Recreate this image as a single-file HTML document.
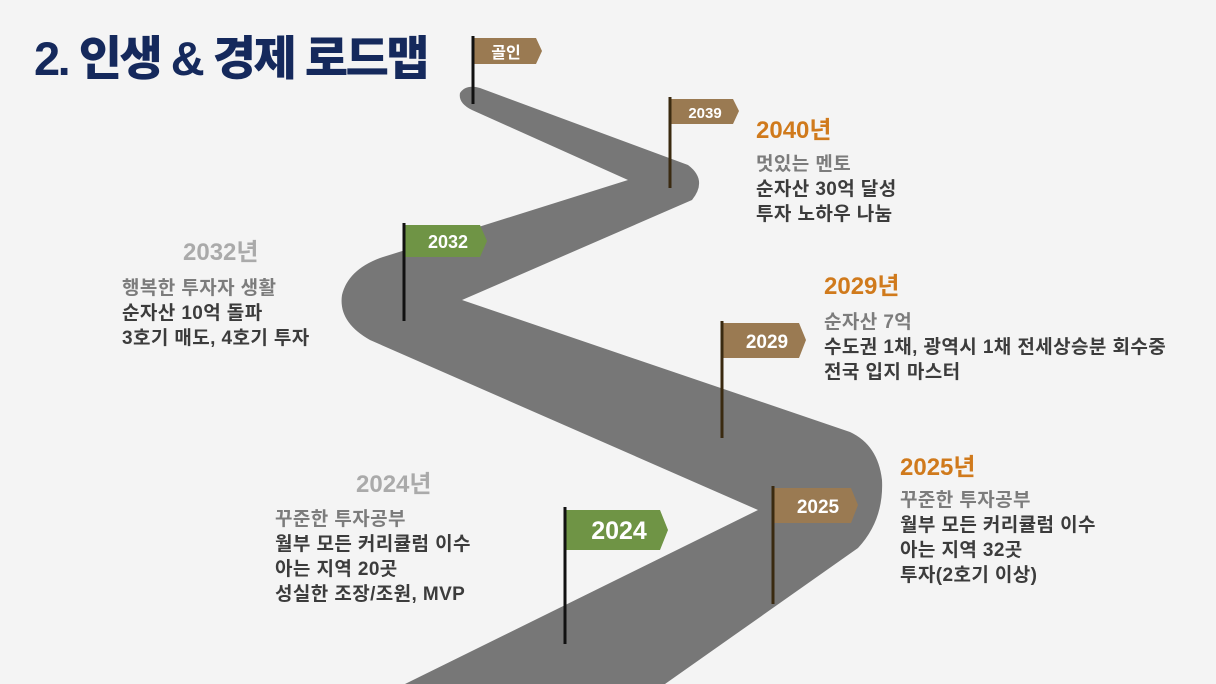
<!DOCTYPE html>
<html><head><meta charset="utf-8"><style>
html,body{margin:0;padding:0;background:#f4f4f4;}
body{width:1216px;height:684px;position:relative;overflow:hidden;font-family:"Liberation Sans","Noto Sans CJK KR",sans-serif;}
.t{position:absolute;white-space:nowrap;}
.title{left:34px;top:20px;font-size:47px;font-weight:900;color:#15295c;letter-spacing:-2.5px;}
.yr{font-size:24px;font-weight:700;}
.o{color:#d07a1c;}
.g{color:#aaaaaa;}
.l{font-size:19px;font-weight:700;color:#3c3c3c;line-height:25px;letter-spacing:0.4px;}
.l .f{color:#7c7c7c;}
</style></head><body>
<svg width="1216" height="684" style="position:absolute;left:0;top:0">
<path d="M 405 684 L 758 510 L 370 340 Q 338 322 342 295 Q 348 270 380 258 L 628 180 L 472 110 Q 458 103 460 93 Q 466 84 480 88 L 688 165 Q 708 180 692 200 L 462 300 L 850 432 Q 878 445 882 480 Q 884 520 858 548 L 665 684 Z" fill="#777777"/>
<g font-family="Liberation Sans, Noto Sans CJK KR, sans-serif" font-weight="700" fill="#fff">
<polygon points="474,38 536,38 542,51 536,64 474,64" fill="#9a7a52"/>
<line x1="473" y1="36" x2="473" y2="104" stroke="#111" stroke-width="3"/>
<text x="506" y="58" font-size="16" text-anchor="middle">골인</text>
<polygon points="671,99 733,99 739,111 733,124 671,124" fill="#9a7a52"/>
<line x1="670" y1="97" x2="670" y2="188" stroke="#3a2a10" stroke-width="3"/>
<text x="705" y="118" font-size="15" text-anchor="middle">2039</text>
<polygon points="405,225 480,225 487,241 480,257 405,257" fill="#6f9445"/>
<line x1="404" y1="223" x2="404" y2="321" stroke="#111" stroke-width="3"/>
<text x="448" y="248" font-size="18" text-anchor="middle">2032</text>
<polygon points="723,323 799,323 806,340 799,358 723,358" fill="#9a7a52"/>
<line x1="722" y1="321" x2="722" y2="438" stroke="#3a2a10" stroke-width="3"/>
<text x="767" y="348" font-size="19" text-anchor="middle">2029</text>
<polygon points="774,488 851,488 858,505 851,523 774,523" fill="#9a7a52"/>
<line x1="773" y1="486" x2="773" y2="604" stroke="#3a2a10" stroke-width="3"/>
<text x="818" y="513" font-size="19" text-anchor="middle">2025</text>
<polygon points="566,510 660,510 668,530 660,550 566,550" fill="#6f9445"/>
<line x1="565" y1="507" x2="565" y2="644" stroke="#111" stroke-width="3"/>
<text x="619" y="539" font-size="25" text-anchor="middle">2024</text>
</g>
</svg>
<div class="t title">2. 인생 &amp; 경제 로드맵</div>

<div class="t yr o" style="left:756px;top:110px">2040년</div>
<div class="t l" style="left:756px;top:152px"><span class="f">멋있는 멘토</span><br>순자산 30억 달성<br>투자 노하우 나눔</div>

<div class="t yr g" style="left:183px;top:232px">2032년</div>
<div class="t l" style="left:122px;top:276px"><span class="f">행복한 투자자 생활</span><br>순자산 10억 돌파<br>3호기 매도, 4호기 투자</div>

<div class="t yr o" style="left:824px;top:266px">2029년</div>
<div class="t l" style="left:824px;top:310px"><span class="f">순자산 7억</span><br>수도권 1채, 광역시 1채 전세상승분 회수중<br>전국 입지 마스터</div>

<div class="t yr o" style="left:900px;top:447px">2025년</div>
<div class="t l" style="left:900px;top:488px"><span class="f">꾸준한 투자공부</span><br>월부 모든 커리큘럼 이수<br>아는 지역 32곳<br>투자(2호기 이상)</div>

<div class="t yr g" style="left:356px;top:464px">2024년</div>
<div class="t l" style="left:275px;top:507px"><span class="f">꾸준한 투자공부</span><br>월부 모든 커리큘럼 이수<br>아는 지역 20곳<br>성실한 조장/조원, MVP</div>
</body></html>
